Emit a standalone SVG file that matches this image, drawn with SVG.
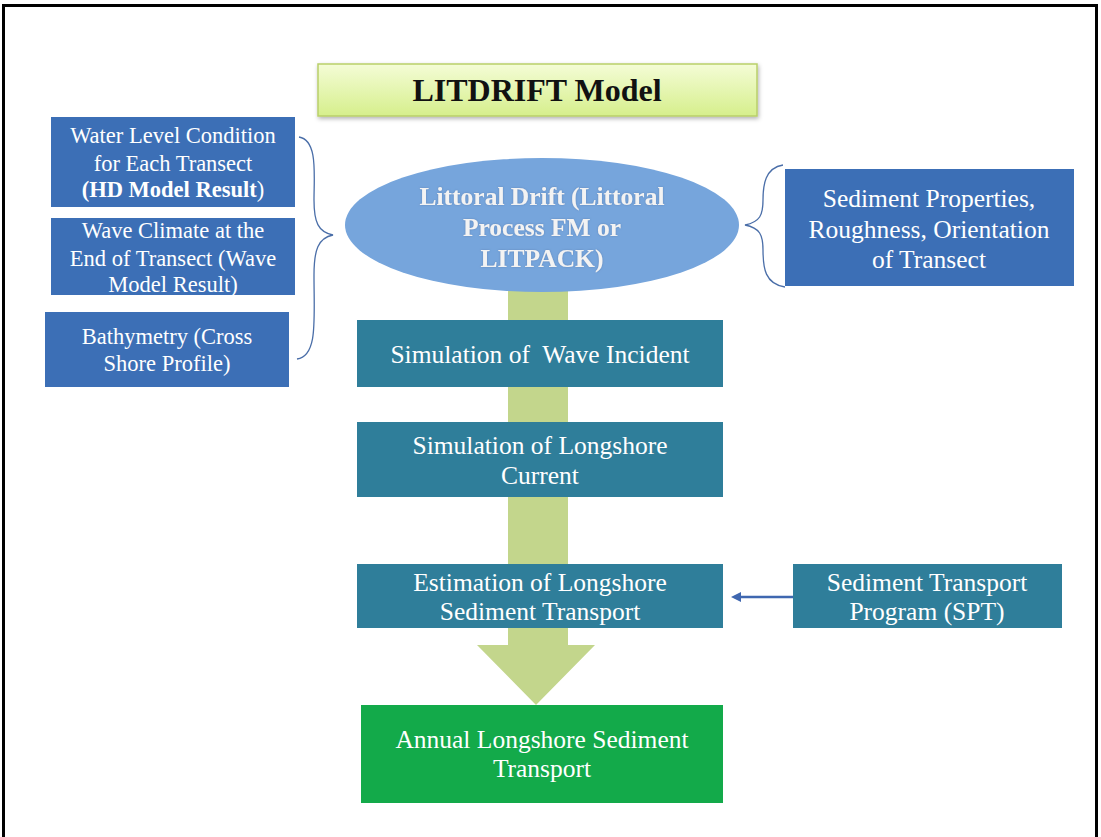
<svg xmlns="http://www.w3.org/2000/svg" width="1101" height="837" viewBox="0 0 1101 837">
  <defs>
    <linearGradient id="titleFill" x1="0" y1="0" x2="0" y2="1">
      <stop offset="0" stop-color="#f4fcd6"/>
      <stop offset="1" stop-color="#d6ef8c"/>
    </linearGradient>
    <filter id="shadow" x="-10%" y="-20%" width="120%" height="150%">
      <feDropShadow dx="1" dy="2" stdDeviation="2" flood-color="#000" flood-opacity="0.3"/>
    </filter>
    <filter id="glow" x="-10%" y="-30%" width="120%" height="160%">
      <feDropShadow dx="0" dy="0" stdDeviation="1.2" flood-color="#5a7fb0" flood-opacity="0.8"/>
    </filter>
    <marker id="arrowBlue" viewBox="0 0 10 10" refX="1" refY="5" markerWidth="4" markerHeight="4" orient="auto-start-reverse">
      <path d="M0,0 L10,5 L0,10 z" fill="#3f67b0"/>
    </marker>
  </defs>
  <style>
    text { font-family: "Liberation Serif", "Times New Roman", serif; fill: #ffffff; text-anchor: middle; white-space: pre; }
    .s { font-size: 22.5px; }
    .t { font-size: 25.5px; }
    .b { font-weight: bold; }
    .blue { fill: #3c6fb6; }
    .teal { fill: #2f7e9a; }
    .brace { fill: none; stroke: #4a6ea8; stroke-width: 1.3; }
  </style>

  <rect width="1101" height="837" fill="#ffffff"/>
  <!-- outer frame -->
  <rect x="3.5" y="5.5" width="1093" height="840" fill="none" stroke="#000" stroke-width="3"/>

  <!-- broad flow arrow behind the process column -->
  <path id="flow" d="M508,285 H568 V645 H595 L536,705 L477,645 H508 Z" fill="#c3d68c"/>

  <g id="title">
    <rect x="318" y="64" width="439" height="52" fill="url(#titleFill)" stroke="#b9cf6a" stroke-width="1.5" filter="url(#shadow)"/>
    <text x="537" y="101" style="font-size:32px;fill:#111" class="b">LITDRIFT Model</text>
  </g>

  <g id="water-level">
    <rect class="blue" x="51" y="117" width="244" height="90"/>
    <text class="s" x="173" y="143">Water Level Condition</text>
    <text class="s" x="173" y="171">for Each Transect</text>
    <text class="s" x="173" y="197"><tspan class="b">(HD Model Result</tspan>)</text>
  </g>

  <g id="wave-climate">
    <rect class="blue" x="51" y="218" width="244" height="77"/>
    <text class="s" x="173" y="238">Wave Climate at the</text>
    <text class="s" x="173" y="266">End of Transect (Wave</text>
    <text class="s" x="173" y="292">Model Result)</text>
  </g>

  <g id="bathymetry">
    <rect class="blue" x="45" y="312" width="244" height="75"/>
    <text class="s" x="167" y="344">Bathymetry (Cross</text>
    <text class="s" x="167" y="371">Shore Profile)</text>
  </g>

  <g id="littoral-drift">
    <ellipse cx="542" cy="225" rx="197" ry="67" fill="#76a5dc"/>
    <g filter="url(#glow)">
      <text class="t b" x="542" y="205" style="fill:#f3f3f3">Littoral Drift (Littoral</text>
      <text class="t b" x="542" y="236" style="fill:#f3f3f3">Process FM or</text>
      <text class="t b" x="542" y="267" style="fill:#f3f3f3">LITPACK)</text>
    </g>
  </g>

  <g id="sediment-properties">
    <rect class="blue" x="785" y="169" width="289" height="117"/>
    <text class="t" x="929" y="207">Sediment Properties,</text>
    <text class="t" x="929" y="238">Roughness, Orientation</text>
    <text class="t" x="929" y="268">of Transect</text>
  </g>

  <g id="wave-incident">
    <rect class="teal" x="357" y="320" width="366" height="67"/>
    <text class="t" x="540" y="363">Simulation of  Wave Incident</text>
  </g>

  <g id="longshore-current">
    <rect class="teal" x="357" y="422" width="366" height="75"/>
    <text class="t" x="540" y="454">Simulation of Longshore</text>
    <text class="t" x="540" y="484">Current</text>
  </g>

  <g id="sediment-transport-estimate">
    <rect class="teal" x="357" y="564" width="366" height="64"/>
    <text class="t" x="540" y="591">Estimation of Longshore</text>
    <text class="t" x="540" y="620">Sediment Transport</text>
  </g>

  <g id="spt">
    <rect class="teal" x="793" y="564" width="269" height="64"/>
    <text class="t" x="927" y="591">Sediment Transport</text>
    <text class="t" x="927" y="620">Program (SPT)</text>
  </g>

  <g id="annual-transport">
    <rect x="361" y="705" width="362" height="98" fill="#13aa4a"/>
    <text class="t" x="542" y="748">Annual Longshore Sediment</text>
    <text class="t" x="542" y="777">Transport</text>
  </g>

  <g id="connectors">
    <!-- brace gathering the three left inputs -->
    <path class="brace" d="M299,137 C318,140 314,175 314,200 C314,222 318,232 333,235 C318,238 314,250 314,275 C314,320 318,356 297,359"/>
    <!-- brace for the right input -->
    <path class="brace" d="M783,165 C765,168 763,185 763,200 C763,215 760,222 745,225 C760,228 763,235 763,250 C763,268 765,284 785,287"/>
    <!-- SPT feeds the transport estimate -->
    <line x1="793" y1="597" x2="740" y2="597" stroke="#3f67b0" stroke-width="2.5" marker-end="url(#arrowBlue)"/>
  </g>
</svg>
